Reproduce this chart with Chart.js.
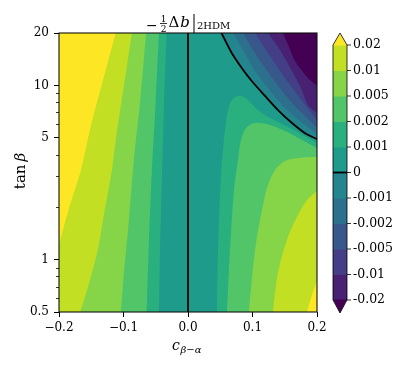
<!DOCTYPE html>
<html><head><meta charset="utf-8">
<script src="https://cdn.jsdelivr.net/npm/chart.js@4/dist/chart.umd.min.js"></script>
<style>html,body{margin:0;padding:0;background:#fff}#wrap{width:405px;height:367px;position:relative}</style>
</head><body><div id="wrap"><canvas id="c"></canvas></div>
<script>
// ---------------- data ----------------
const xTicks = [-0.2, -0.1, 0.0, 0.1, 0.2];
const yTicks = [0.5, 1, 5, 10, 20];
const yMinorTicks = [0.6, 0.7, 0.8, 0.9, 2, 3, 4, 6, 7, 8, 9];
const levels = [-0.02, -0.01, -0.005, -0.002, -0.001, 0, 0.001, 0.002, 0.005, 0.01, 0.02];
const levelLabels = ['-0.02', '-0.01', '-0.005', '-0.002', '-0.001', '0', '0.001', '0.002', '0.005', '0.01', '0.02'];

// contour lines as [c_{beta-alpha}, tan beta]
// left side (c<0), top to bottom
const left001 = [[-0.033,20],[-0.037,8.25],[-0.040,3.27],[-0.043,1.30],[-0.045,0.5]];
const left002 = [[-0.045,20],[-0.050,8.25],[-0.056,3.27],[-0.0605,1.30],[-0.064,0.5]];
const left005 = [[-0.065,20],[-0.074,8.25],[-0.084,3.73],[-0.093,1.48],[-0.099,0.87],[-0.104,0.5]];
const left01  = [[-0.087,20],[-0.099,10.1],[-0.110,5.55],[-0.118,3.27],[-0.129,1.93],[-0.140,1.135],[-0.152,0.763],[-0.167,0.5]];
const left02  = [[-0.112,20],[-0.152,5.55],[-0.166,3.27],[-0.183,2.06],[-0.2,1.22]];
// right side, lower part, bottom edge to right edge
const right001 = [[0.045,0.5],[0.0465,1.135],[0.0496,2.35],[0.0527,3.73],[0.0574,5.55],[0.062,7.22],[0.0682,8.25],[0.0775,8.70],[0.0868,8.58],[0.0961,8.03],[0.1085,7.22],[0.1271,6.50],[0.1612,5.62],[0.2,4.67]];
const right002 = [[0.0605,0.5],[0.0651,1.135],[0.0713,2.51],[0.0775,3.73],[0.0822,4.86],[0.0899,5.70],[0.1039,6.09],[0.1271,5.93],[0.1504,5.47],[0.1767,4.86],[0.2,4.37]];
const right005 = [[0.0946,0.5],[0.1039,1.135],[0.1163,2.06],[0.124,2.68],[0.1349,3.27],[0.1504,3.68],[0.1705,3.83],[0.2,3.88]];
const right01  = [[0.1318,0.5],[0.1395,0.84],[0.1535,1.30],[0.169,1.76],[0.1845,2.20],[0.2,2.48]];
const right02  = [[0.1845,0.5],[0.1922,0.626],[0.2,0.753]];
// right side, upper part (negative values), top edge to right edge
const neg0   = [[0.0519,20],[0.0678,15.35],[0.0833,12.6],[0.0988,10.6],[0.1194,8.7],[0.1395,7.22],[0.1612,6.08],[0.1814,5.32],[0.2,4.92]];
const neg001 = [[0.0698,20],[0.0853,15.97],[0.1008,12.6],[0.1163,10.46],[0.1457,7.72],[0.1736,6.25],[0.2,5.26]];
const neg002 = [[0.0853,20],[0.1008,15.97],[0.1194,12.6],[0.1411,9.80],[0.1612,7.93],[0.1814,6.67],[0.2,5.70]];
const neg005 = [[0.1039,20],[0.1209,15.97],[0.1395,12.6],[0.1581,10.1],[0.1767,8.14],[0.1891,7.13],[0.2,6.33]];
const neg01  = [[0.124,20],[0.1426,15.97],[0.1612,12.1],[0.1752,9.66],[0.186,7.72],[0.2,6.95]];
const neg02  = [[0.1473,20],[0.1566,16.6],[0.1659,13.8],[0.186,11.03],[0.2,9.93]];
// zero contour along c = 0
const zeroLine = [[0,0.5],[0,20]];
// -------------------------------------------------------------

const viridis = ['#440154','#482173','#433e85','#38588c','#2d708e','#25858e','#1e9b8a','#2ab07f','#52c569','#86d549','#c2df23','#fde725'];
const xMin = xTicks[0], xMax = xTicks[xTicks.length-1];
const TENSION = 0.33;

const regions = [
  {pts:left001, side:'left', c:7}, {pts:left002, side:'left', c:8}, {pts:left005, side:'left', c:9},
  {pts:left01, side:'left', c:10}, {pts:left02, side:'left', c:11},
  {pts:right001, side:'right', c:7}, {pts:right002, side:'right', c:8}, {pts:right005, side:'right', c:9},
  {pts:right01, side:'right', c:10}, {pts:right02, side:'right', c:11},
  {pts:neg0, side:'right', c:5}, {pts:neg001, side:'right', c:4}, {pts:neg002, side:'right', c:3},
  {pts:neg005, side:'right', c:2}, {pts:neg01, side:'right', c:1}, {pts:neg02, side:'right', c:0}
];

const datasets = regions.map(r => {
  const p = r.pts.slice();
  const first = p[0], last = p[p.length-1];
  if (r.side === 'left') { p.push([xMin, last[1]]); p.push([xMin, first[1]]); }
  else { p.push([xMax, first[1]]); }
  return {type:'scatter', data:p.map(q=>({x:q[0], y:q[1]})), showLine:false, pointRadius:0, pointHoverRadius:0,
          fillPoly:viridis[r.c], nCurve:r.pts.length};
});
[zeroLine, neg0].forEach(l => datasets.push({type:'scatter', data:l.map(q=>({x:q[0], y:q[1]})), showLine:true,
  borderColor:'#000', borderWidth:1.8, pointRadius:0, pointHoverRadius:0, tension:TENSION, fill:false}));

function splinePath(ctx, pts) {
  const n = pts.length;
  const cps = pts.map((c, i) => {
    if (i === 0 || i === n-1) return {p:{x:c.x,y:c.y}, nx:{x:c.x,y:c.y}};
    const a = pts[i-1], b = pts[i+1];
    const d01 = Math.hypot(c.x-a.x, c.y-a.y), d12 = Math.hypot(b.x-c.x, b.y-c.y);
    let s01 = d01/(d01+d12), s12 = d12/(d01+d12);
    if (!isFinite(s01)) s01 = 0; if (!isFinite(s12)) s12 = 0;
    const fa = TENSION*s01, fb = TENSION*s12;
    return {p:{x:c.x - fa*(b.x-a.x), y:c.y - fa*(b.y-a.y)}, nx:{x:c.x + fb*(b.x-a.x), y:c.y + fb*(b.y-a.y)}};
  });
  ctx.moveTo(pts[0].x, pts[0].y);
  for (let i = 1; i < n; i++) {
    ctx.bezierCurveTo(cps[i-1].nx.x, cps[i-1].nx.y, cps[i].p.x, cps[i].p.y, pts[i].x, pts[i].y);
  }
}

const contourPlugin = {
  id:'contourFill',
  beforeDatasetsDraw(chart) {
    const ctx = chart.ctx, ca = chart.chartArea;
    ctx.save();
    ctx.beginPath(); ctx.rect(ca.left, ca.top, ca.right-ca.left, ca.bottom-ca.top); ctx.clip();
    ctx.fillStyle = viridis[6];
    ctx.fillRect(ca.left, ca.top, ca.right-ca.left, ca.bottom-ca.top);
    chart.data.datasets.forEach((ds, i) => {
      if (!ds.fillPoly) return;
      const pts = chart.getDatasetMeta(i).data.map(e => ({x:e.x, y:e.y}));
      ctx.beginPath();
      splinePath(ctx, pts.slice(0, ds.nCurve));
      for (let j = ds.nCurve; j < pts.length; j++) ctx.lineTo(pts[j].x, pts[j].y);
      ctx.closePath();
      ctx.fillStyle = ds.fillPoly;
      ctx.fill();
    });
    ctx.restore();
  },
  afterDraw(chart) {
    const ctx = chart.ctx, ca = chart.chartArea, ys = chart.scales.y;
    ctx.save();
    // frame
    ctx.strokeStyle = '#111'; ctx.lineWidth = 1.1;
    ctx.strokeRect(ca.left, ca.top, ca.right-ca.left, ca.bottom-ca.top);
    // minor ticks on log axis
    ctx.strokeStyle = '#000'; ctx.lineWidth = 0.8;
    yMinorTicks.forEach(v => {
      const y = Math.round(ys.getPixelForValue(v)) + 0.5;
      ctx.beginPath(); ctx.moveTo(ca.left-3, y); ctx.lineTo(ca.left, y); ctx.stroke();
    });
    // colorbar
    const bx0 = 333, bx1 = 347, bTop = 45, bBot = 300, apexT = 33, apexB = 313;
    const nb = levels.length - 1;
    const ly = i => bBot - i*(bBot-bTop)/nb;
    for (let i = 1; i <= nb; i++) {
      ctx.fillStyle = viridis[i];
      ctx.fillRect(bx0, ly(i), bx1-bx0, ly(i-1)-ly(i)+0.5);
    }
    ctx.fillStyle = viridis[11];
    ctx.beginPath(); ctx.moveTo(bx0, bTop+0.5); ctx.lineTo((bx0+bx1)/2, apexT); ctx.lineTo(bx1, bTop+0.5); ctx.closePath(); ctx.fill();
    ctx.fillStyle = viridis[0];
    ctx.beginPath(); ctx.moveTo(bx0, bBot-0.5); ctx.lineTo((bx0+bx1)/2, apexB); ctx.lineTo(bx1, bBot-0.5); ctx.closePath(); ctx.fill();
    // zero line in colorbar
    ctx.strokeStyle = '#000'; ctx.lineWidth = 1.8;
    const z = ly(levels.indexOf(0));
    ctx.beginPath(); ctx.moveTo(bx0, z); ctx.lineTo(bx1, z); ctx.stroke();
    // outline
    ctx.lineWidth = 0.8;
    ctx.beginPath(); ctx.moveTo(bx0, bTop); ctx.lineTo((bx0+bx1)/2, apexT); ctx.lineTo(bx1, bTop);
    ctx.lineTo(bx1, bBot); ctx.lineTo((bx0+bx1)/2, apexB); ctx.lineTo(bx0, bBot); ctx.closePath(); ctx.stroke();
    // ticks & labels
    ctx.fillStyle = '#000'; ctx.font = '12.5px "DejaVu Serif"'; ctx.textAlign = 'left'; ctx.textBaseline = 'middle';
    for (let i = 0; i <= nb; i++) {
      const y = ly(i);
      ctx.beginPath(); ctx.moveTo(bx1, y); ctx.lineTo(bx1+4, y); ctx.stroke();
      ctx.fillText(levelLabels[i], 353, y);
    }
    // title  -1/2 Δb |_2HDM
    ctx.textBaseline = 'alphabetic';
    ctx.font = '14px "DejaVu Serif"';
    ctx.fillText('\u2212', 146, 29.5);
    ctx.font = '9px "DejaVu Serif"'; ctx.textAlign = 'center';
    ctx.fillText('1', 163.5, 21.5); ctx.fillText('2', 163.5, 31.5);
    ctx.lineWidth = 0.8; ctx.beginPath(); ctx.moveTo(160, 23.5); ctx.lineTo(167, 23.5); ctx.stroke();
    ctx.textAlign = 'left';
    ctx.font = '15px "DejaVu Serif"';
    ctx.fillText('\u0394', 168.5, 27);
    let w = ctx.measureText('\u0394').width;
    ctx.font = 'italic 15px "DejaVu Serif"';
    ctx.fillText('b', 169.5 + w, 27);
    ctx.lineWidth = 1; ctx.beginPath(); ctx.moveTo(194, 14); ctx.lineTo(194, 33); ctx.stroke();
    ctx.font = '10px "DejaVu Serif"';
    ctx.fillText('2HDM', 197, 28.5);
    // x label c_{β−α}
    ctx.font = 'italic 14px "DejaVu Serif"';
    ctx.fillText('c', 172, 350);
    ctx.font = 'italic 10px "DejaVu Serif"';
    ctx.fillText('\u03b2\u2212\u03b1', 180.5, 353);
    // y label tan β
    ctx.translate(21, 171); ctx.rotate(-Math.PI/2);
    ctx.font = '15px "DejaVu Serif"';
    const w1 = ctx.measureText('tan\u2009').width;
    ctx.font = 'italic 15px "DejaVu Serif"';
    const w2 = ctx.measureText('\u03b2').width;
    ctx.textBaseline = 'middle';
    ctx.font = '15px "DejaVu Serif"';
    ctx.fillText('tan\u2009', -(w1+w2)/2, 0);
    ctx.font = 'italic 15px "DejaVu Serif"';
    ctx.fillText('\u03b2', -(w1+w2)/2 + w1, 0);
    ctx.restore();
  }
};

Chart.defaults.font.family = '"DejaVu Serif", serif';
Chart.defaults.font.size = 12;
Chart.defaults.color = '#000';

new Chart(document.getElementById('c'), {
  type:'scatter',
  data:{datasets},
  options:{
    responsive:true, maintainAspectRatio:false, animation:false,
    layout:{padding:{left:0, right:88, top:33, bottom:0}},
    plugins:{legend:{display:false}, tooltip:{enabled:false}, title:{display:false}},
    events:[],
    scales:{
      x:{type:'linear', min:xMin, max:xMax,
         afterBuildTicks:s => { s.ticks = xTicks.map(v => ({value:v})); },
         afterFit:s => { s.height = 55; },
         ticks:{callback:v => (v < 0 ? '\u2212' : '') + Math.abs(v).toFixed(1), padding:4, maxRotation:0, autoSkip:false, color:'#000'},
         grid:{drawOnChartArea:false, drawTicks:true, tickLength:5, tickColor:'#000', tickWidth:1},
         border:{display:false}},
      y:{type:'logarithmic', min:yTicks[0], max:yTicks[yTicks.length-1],
         afterBuildTicks:s => { s.ticks = yTicks.map(v => ({value:v})); },
         afterFit:s => { s.width = 59; },
         ticks:{callback:v => String(v), padding:5, autoSkip:false, color:'#000'},
         grid:{drawOnChartArea:false, drawTicks:true, tickLength:5, tickColor:'#000', tickWidth:1},
         border:{display:false}}
    }
  },
  plugins:[contourPlugin]
});
</script>
</body></html>
